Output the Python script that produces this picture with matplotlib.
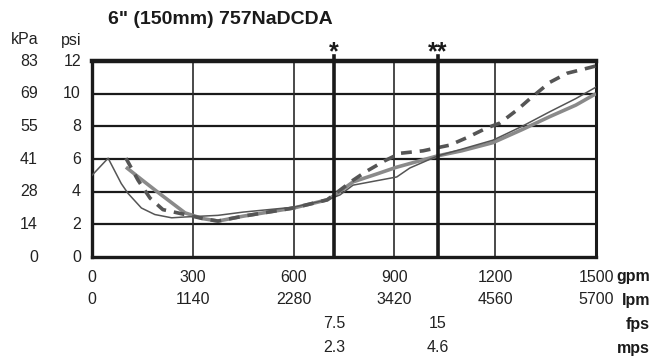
import matplotlib
matplotlib.use("Agg")
import matplotlib.pyplot as plt
import matplotlib.transforms as mtransforms

plt.rcParams['font.family'] = ['Liberation Sans', 'DejaVu Sans']

# data (gpm vs psi)
thin_gpm = [0, 48, 87, 107, 147, 187, 237, 277, 375, 450, 600, 700, 738, 777, 907, 946, 1030, 1100, 1193, 1280, 1363, 1440, 1500]
thin_psi = [5.0, 6.05, 4.5, 3.9, 3.0, 2.6, 2.4, 2.45, 2.55, 2.75, 3.05, 3.5, 3.8, 4.4, 4.9, 5.45, 6.2, 6.6, 7.15, 8.0, 8.9, 9.7, 10.4]

grey_gpm = [101, 150, 200, 277, 330, 375, 450, 600, 700, 720, 777, 850, 907, 1030, 1100, 1193, 1280, 1363, 1440, 1500]
grey_psi = [5.5, 4.7, 3.9, 2.7, 2.35, 2.2, 2.5, 3.0, 3.5, 3.75, 4.6, 5.1, 5.5, 6.2, 6.5, 7.0, 7.8, 8.6, 9.3, 10.0]

dash_gpm = [101, 137, 173, 211, 277, 330, 375, 450, 600, 700, 777, 813, 872, 917, 985, 1030, 1065, 1115, 1175, 1214, 1265, 1304, 1363, 1414, 1482, 1500]
dash_psi = [6.05, 4.7, 3.6, 2.9, 2.6, 2.35, 2.2, 2.5, 3.0, 3.5, 4.7, 5.2, 5.9, 6.35, 6.5, 6.7, 6.85, 7.3, 7.9, 8.2, 9.0, 9.7, 10.7, 11.25, 11.6, 11.7]

psi_ticks = [0, 2, 4, 6, 8, 10, 12]
kpa_labels = ['0', '14', '28', '41', '55', '69', '83']
gpm_ticks = [0, 300, 600, 900, 1200, 1500]
lpm_labels = ['0', '1140', '2280', '3420', '4560', '5700']
marker_gpm = [720, 1030]
fps_labels = ['7.5', '15']
mps_labels = ['2.3', '4.6']
marker_stars = ['*', '**']

FS = 11.5
TXT = '#222222'

fig = plt.figure(figsize=(6.52, 3.58), dpi=100)
ax = fig.add_axes([92 / 652, 1 - 257 / 358, 504 / 652, 196 / 358])
ax.set_xlim(0, 1500)
ax.set_ylim(0, 12)
ax.set_xticks([])
ax.set_yticks([])

# grid
for y in psi_ticks[1:-1]:
    ax.axhline(y, color='#1a1a1a', lw=1.6, zorder=1)
for x in gpm_ticks[1:-1]:
    ax.axvline(x, color='#2a2a2a', lw=1.2, zorder=1)

# velocity marker lines (extend slightly above the frame)
for x in marker_gpm:
    ax.plot([x, x], [0, 12.3], color='#1a1a1a', lw=2.6, zorder=4, clip_on=False)

for side, w in [('top', 3.2), ('left', 2.4), ('bottom', 2.4), ('right', 2.2)]:
    ax.spines[side].set_linewidth(w)
    ax.spines[side].set_color('#1a1a1a')

ax.plot(grey_gpm, grey_psi, color='#8a8a8a', lw=2.6, zorder=3, solid_capstyle='butt')
ax.plot(dash_gpm, dash_psi, color='#555555', lw=2.6, zorder=3, linestyle=(0, (3, 2.2)))
ax.plot(thin_gpm, thin_psi, color='#555555', lw=1.1, zorder=3)

# y labels: psi and kPa columns
ty = mtransforms.blended_transform_factory(fig.transFigure, ax.transData)
for p, k in zip(psi_ticks, kpa_labels):
    ax.text(81 / 652, p, str(p), transform=ty, ha='right', va='center', fontsize=FS, color=TXT)
    ax.text(38 / 652, p, k, transform=ty, ha='right', va='center', fontsize=FS, color=TXT)
fig.text(38 / 652, 1 - 40 / 358, 'kPa', ha='right', va='center', fontsize=FS, color=TXT)
fig.text(81 / 652, 1 - 40 / 358, 'psi', ha='right', va='center', fontsize=FS, color=TXT)

# x labels
tx = mtransforms.blended_transform_factory(ax.transData, fig.transFigure)
for g, l in zip(gpm_ticks, lpm_labels):
    ax.text(g, 1 - 277 / 358, str(g), transform=tx, ha='center', va='center', fontsize=FS, color=TXT)
    ax.text(g, 1 - 300 / 358, l, transform=tx, ha='center', va='center', fontsize=FS, color=TXT)
for g, f, m, s in zip(marker_gpm, fps_labels, mps_labels, marker_stars):
    ax.text(g, 1 - 324 / 358, f, transform=tx, ha='center', va='center', fontsize=FS, color=TXT)
    ax.text(g, 1 - 348 / 358, m, transform=tx, ha='center', va='center', fontsize=FS, color=TXT)
    ax.text(g, 1 - 52 / 358, s, transform=tx, ha='center', va='center', fontsize=18,
            fontweight='bold', color='#1a1a1a')

for lab, yp in [('gpm', 277), ('lpm', 300), ('fps', 324), ('mps', 348)]:
    fig.text(650 / 652, 1 - yp / 358, lab, ha='right', va='center', fontsize=FS,
             fontweight='bold', color='#1a1a1a')

fig.text(108 / 652, 1 - 20 / 358, '6" (150mm) 757NaDCDA', ha='left', va='center',
         fontsize=14, fontweight='bold', color='#1a1a1a')

fig.savefig('out.png', dpi=100)
